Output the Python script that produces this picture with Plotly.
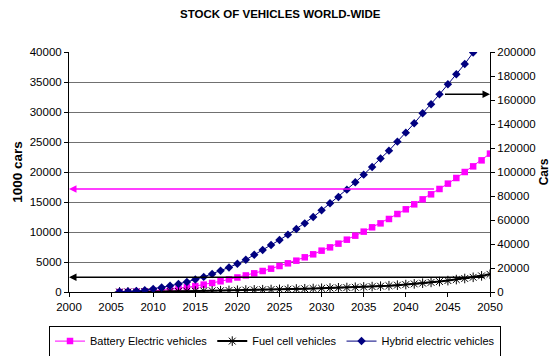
import plotly.graph_objects as go

# Years with data points
years = list(range(2006, 2051))

# Vehicle stock, in 1000 cars
battery_electric = [
    0, 20, 60, 120, 200, 300, 420, 580, 780, 990,
    1230, 1500, 1790, 2100, 2420, 2760, 3110, 3500, 3890, 4330,
    4780, 5220, 5780, 6280, 6890, 7440, 8060, 8720, 9390, 10060,
    10780, 11440, 12170, 13000, 13780, 14610, 15440, 16280, 17170, 18060,
    19000, 20000, 20940, 21940, 23060,
]
fuel_cell = [
    0, 0, 20, 40, 60, 80, 100, 120, 140, 160,
    180, 200, 230, 260, 290, 320, 350, 380, 410, 440,
    470, 500, 540, 580, 620, 660, 700, 740, 790, 840,
    900, 970, 1050, 1140, 1240, 1350, 1470, 1600, 1740, 1900,
    2070, 2250, 2450, 2690, 2950,
]
hybrid_electric = [
    50, 80, 150, 300, 520, 760, 1030, 1340, 1680, 2070,
    2520, 3010, 3540, 4100, 4700, 5380, 6200, 7000, 7830, 8670,
    9560, 10500, 11440, 12500, 13610, 14780, 15830, 17060, 18280, 19560,
    20830, 22250, 23560, 25060, 26560, 28110, 29780, 31280, 32940, 34610,
    36280, 38000, 39900, 41700, 43500,
]

series_names = ["Battery Electric vehicles", "Fuel cell vehicles", "Hybrid electric vehicles"]
x_ticks = list(range(2000, 2051, 5))
left_ticks = list(range(0, 40001, 5000))
right_ticks = list(range(0, 200001, 20000))

FONT = "Liberation Sans, Arial, sans-serif"

fig = go.Figure()

fig.add_trace(go.Scatter(
    x=years, y=battery_electric, name=series_names[0], mode="lines+markers",
    line=dict(color="#FF00FF", width=1),
    marker=dict(symbol="square", size=6.5, color="#FF00FF"),
))
fig.add_trace(go.Scatter(
    x=years, y=fuel_cell, name=series_names[1], mode="lines+markers",
    line=dict(color="#000000", width=2),
    marker=dict(symbol="asterisk-open", size=8, color="#000000",
                line=dict(color="#000000", width=1)),
))
fig.add_trace(go.Scatter(
    x=years, y=hybrid_electric, name=series_names[2], mode="lines+markers",
    line=dict(color="#000080", width=1),
    marker=dict(symbol="diamond", size=6.5, color="#000080"),
))
# invisible trace to activate the secondary axis (in cars)
fig.add_trace(go.Scatter(
    x=[2000], y=[0], yaxis="y2", mode="markers", showlegend=False,
    marker=dict(opacity=0), hoverinfo="skip",
))

# Reference arrows pointing to the axes
i44 = years.index(2044)
i48 = years.index(2048)
arrows = [
    dict(x=2000, y=battery_electric[i44], ax=2044, ay=battery_electric[i44], color="#FF00FF"),
    dict(x=2050, y=hybrid_electric[i44], ax=2044, ay=hybrid_electric[i44], color="#000000"),
    dict(x=2000, y=fuel_cell[i48], ax=2050, ay=fuel_cell[i48], color="#000000"),
]
for a in arrows:
    fig.add_annotation(
        x=a["x"], y=a["y"], ax=a["ax"], ay=a["ay"], xref="x", yref="y",
        axref="x", ayref="y", text="", showarrow=True, arrowhead=2,
        arrowsize=1, arrowwidth=1.5, arrowcolor=a["color"], startstandoff=4,
    )

fig.update_layout(
    width=555, height=356,
    margin=dict(l=69, r=65, t=52, b=64, autoexpand=False),
    paper_bgcolor="white", plot_bgcolor="white",
    font=dict(family=FONT, size=11.5, color="#000000"),
    title=dict(text="<b>STOCK OF VEHICLES WORLD-WIDE</b>", x=0.505, xanchor="center",
               y=0.962, yanchor="middle", font=dict(size=11.5)),
    showlegend=True,
    legend=dict(orientation="h", x=-0.0475, xanchor="left", y=-0.14, yanchor="top",
                bordercolor="#000000", borderwidth=1, font=dict(size=11),
                itemwidth=30, tracegroupgap=0),
    xaxis=dict(
        range=[2000, 2050], tickvals=x_ticks, ticks="outside", ticklen=4,
        tickcolor="#000000", showgrid=False, showline=True, linecolor="#000000",
        linewidth=1, zeroline=False, tickfont=dict(size=11.5), tickformat="d",
        automargin=False,
    ),
    yaxis=dict(
        range=[0, 40000], tickvals=left_ticks, ticks="outside", ticklen=4,
        tickcolor="#000000", showgrid=True, gridcolor="#707070", gridwidth=1,
        showline=True, linecolor="#000000", linewidth=1, zeroline=False,
        title=dict(text="<b>1000 cars</b>", font=dict(size=13.5), standoff=3),
        tickfont=dict(size=11.5), tickformat="d", automargin=False,
    ),
    yaxis2=dict(
        range=[0, 200000], tickvals=right_ticks, overlaying="y", side="right",
        ticks="outside", ticklen=4, tickcolor="#000000", showgrid=False,
        showline=True, linecolor="#000000", linewidth=1, zeroline=False,
        title=dict(text="<b>Cars</b>", font=dict(size=12), standoff=4),
        tickfont=dict(size=11.5), tickformat="d", automargin=False,
    ),
)

fig.write_html("out.html")
